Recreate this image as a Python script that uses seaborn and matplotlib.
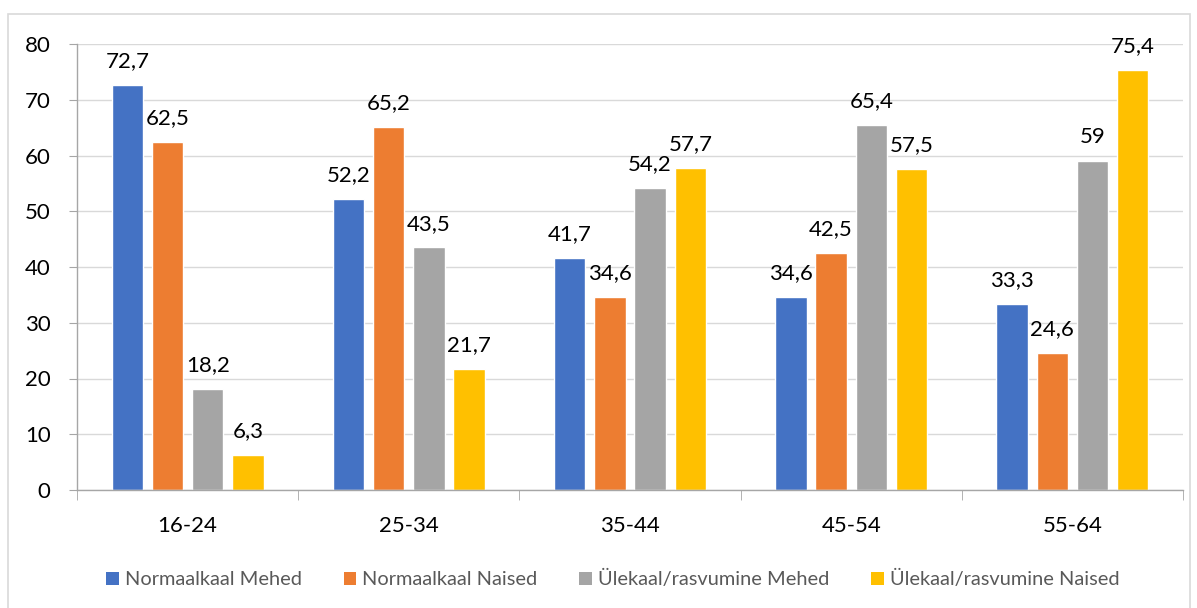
import pandas as pd
import seaborn as sns
import matplotlib.pyplot as plt
from matplotlib.patches import Patch, Rectangle

# andmed
vanus = ['16-24', '25-34', '35-44', '45-54', '55-64']
seeriad = ['Normaalkaal Mehed', 'Normaalkaal Naised',
           'Ülekaal/rasvumine Mehed', 'Ülekaal/rasvumine Naised']
norm_mehed = [72.7, 52.2, 41.7, 34.6, 33.3]
norm_naised = [62.5, 65.2, 34.6, 42.5, 24.6]
ylek_mehed = [18.2, 43.5, 54.2, 65.4, 59]
ylek_naised = [6.3, 21.7, 57.7, 57.5, 75.4]
varvid = ['#4472C4', '#ED7D31', '#A5A5A5', '#FFC000']

df = pd.DataFrame({
    'vanus': vanus * 4,
    'seeria': [s for s in seeriad for _ in vanus],
    'vaartus': norm_mehed + norm_naised + ylek_mehed + ylek_naised,
})

sns.set_style('white')
plt.rcParams['font.family'] = ['Lato', 'DejaVu Sans']

fig = plt.figure(figsize=(11.97, 6.08), dpi=100)
ax = fig.add_axes([77 / 1197, 1 - 490 / 608, (1183 - 77) / 1197, (490 - 44) / 608])

sns.barplot(data=df, x='vanus', y='vaartus', hue='seeria', hue_order=seeriad,
            palette=varvid, width=0.727, gap=0.22, saturation=1,
            legend=False, ax=ax, errorbar=None)

for cont in ax.containers:
    lab = [f'{b.get_height():g}'.replace('.', ',') for b in cont]
    ax.bar_label(cont, labels=lab, padding=10, fontsize=16, color='black')

ax.set_ylim(0, 80)
ax.set_xlim(-0.5, 4.5)
ax.set_yticks(range(0, 81, 10))
ax.yaxis.grid(True, color='#D9D9D9', linewidth=1)
ax.set_axisbelow(True)
ax.set_xlabel('')
ax.set_ylabel('')

for s in ['top', 'right']:
    ax.spines[s].set_visible(False)
for s in ['left', 'bottom']:
    ax.spines[s].set_color('#A6A6A6')
    ax.spines[s].set_linewidth(1)

ax.set_xticks([-0.5, 0.5, 1.5, 2.5, 3.5, 4.5], minor=True)
ax.tick_params(axis='x', which='major', length=0, pad=19, labelsize=16, labelcolor='black')
ax.tick_params(axis='x', which='minor', length=7, color='#A6A6A6', direction='out', bottom=True)
ax.tick_params(axis='y', length=6, color='#A6A6A6', labelsize=16, labelcolor='black', pad=13, left=True)

kasted = [Patch(facecolor=c, edgecolor='none') for c in varvid]
fig.legend(kasted, seeriad, loc='center', bbox_to_anchor=(0.512, 29 / 608), ncol=4,
           frameon=False, fontsize=14.4, labelcolor='#595959', handlelength=0.62,
           handleheight=0.62, handletextpad=0.3, columnspacing=2.1)

# raam ümber pildi
fig.patches.append(Rectangle((8 / 1197, -0.01), (1190 - 8) / 1197, 1 - 14 / 608 + 0.01,
                             transform=fig.transFigure, fill=False,
                             edgecolor='#D9D9D9', linewidth=1.2))

fig.savefig('out.png', dpi=100)
